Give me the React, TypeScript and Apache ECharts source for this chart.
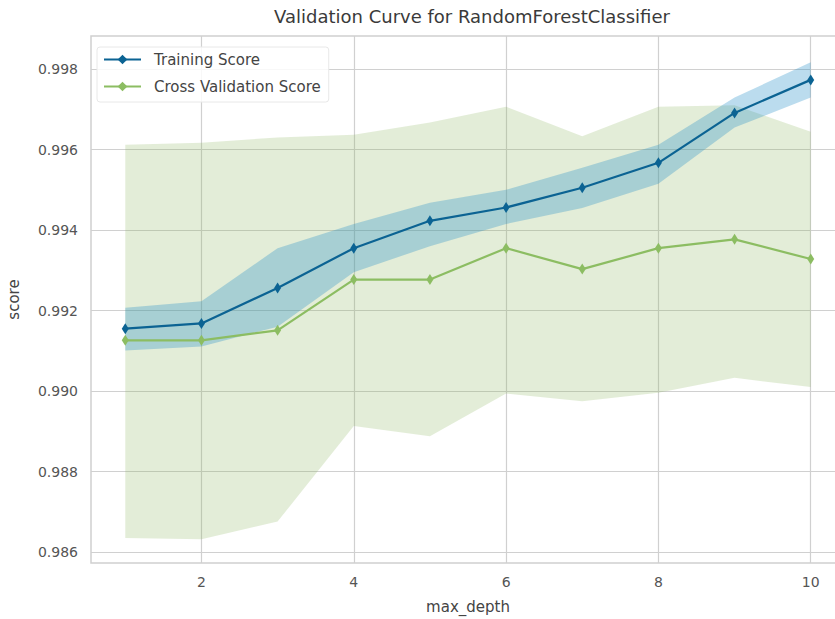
import React, { useEffect, useRef } from "react";
import * as echarts from "echarts";

const depths = [1, 2, 3, 4, 5, 6, 7, 8, 9, 10];

const trainMean = [0.99155, 0.99168, 0.99256, 0.99355, 0.99423, 0.99456, 0.99505, 0.99567, 0.99691, 0.99773];
const trainHigh = [0.99207, 0.99223, 0.99355, 0.99415, 0.99468, 0.995, 0.99555, 0.99612, 0.99729, 0.99817];
const trainLow = [0.99101, 0.99111, 0.9916, 0.99295, 0.9936, 0.99415, 0.99455, 0.99515, 0.99655, 0.99729];

const cvMean = [0.99126, 0.99126, 0.99151, 0.99277, 0.99277, 0.99355, 0.99303, 0.99355, 0.99377, 0.99328];
const cvHigh = [0.99612, 0.99617, 0.9963, 0.99637, 0.99667, 0.99706, 0.99633, 0.99706, 0.9971, 0.99644];
const cvLow = [0.98635, 0.98632, 0.98676, 0.98913, 0.98888, 0.98994, 0.98975, 0.98996, 0.99033, 0.9901];

const xTicks = [2, 4, 6, 8, 10];
const yTicks = [0.986, 0.988, 0.99, 0.992, 0.994, 0.996, 0.998];

const BLUE = "#0b6393";
const GREEN = "#8cbd62";
const FONT = "DejaVu Sans, Liberation Sans, sans-serif";

function band(lo: number[], hi: number[], fill: string, z: number) {
  return {
    type: "custom",
    silent: true,
    z,
    clip: true,
    data: [[5, 0.992]],
    renderItem: (_params: any, api: any) => {
      const pts: number[][] = [];
      depths.forEach((d, i) => pts.push(api.coord([d, hi[i]])));
      for (let i = depths.length - 1; i >= 0; i--) pts.push(api.coord([depths[i], lo[i]]));
      return { type: "polygon", shape: { points: pts }, style: { fill } };
    },
  };
}

export default function App() {
  const ref = useRef<HTMLDivElement>(null);
  useEffect(() => {
    if (!ref.current) return;
    const chart = echarts.init(ref.current, undefined, { renderer: "svg" });
    chart.setOption({
      animation: false,
      backgroundColor: "#ffffff",
      textStyle: { fontFamily: FONT },
      title: {
        text: "Validation Curve for RandomForestClassifier",
        left: 467,
        textAlign: "center",
        top: 2,
        textStyle: { fontFamily: FONT, fontSize: 18, fontWeight: "normal", color: "#3a3a3a" },
      },
      grid: {
        show: true,
        left: 91,
        top: 36,
        width: 754,
        height: 527,
        outerBoundsMode: "none",
        containLabel: false,
        borderColor: "#d0d0d0",
        borderWidth: 1.5,
        backgroundColor: "transparent",
      },
      legend: {
        left: 97,
        top: 47,
        orient: "vertical",
        itemWidth: 37,
        itemHeight: 12,
        itemGap: 12,
        padding: [5, 8, 8, 6],
        backgroundColor: "rgba(255,255,255,0.85)",
        borderColor: "#e8e8e8",
        borderWidth: 1,
        borderRadius: 3,
        data: ["Training Score", "Cross Validation Score"],
        textStyle: { fontFamily: FONT, fontSize: 15, color: "#444", padding: [0, 0, 0, 8] },
      },
      xAxis: {
        type: "value",
        min: 0.55,
        max: 10.45,
        name: "max_depth",
        nameLocation: "middle",
        nameGap: 36,
        nameTextStyle: { fontFamily: FONT, fontSize: 15, color: "#444" },
        axisLine: { show: false },
        axisTick: { show: false, customValues: xTicks },
        axisLabel: { customValues: xTicks, margin: 12, fontSize: 14, color: "#555", fontFamily: FONT },
        splitLine: { show: true, lineStyle: { color: "#d0d0d0", width: 1.2 } },
      },
      yAxis: {
        type: "value",
        min: 0.98573,
        max: 0.99882,
        name: "score",
        nameLocation: "middle",
        nameGap: 70,
        nameTextStyle: { fontFamily: FONT, fontSize: 15, color: "#444" },
        axisLine: { show: false },
        axisTick: { show: false, customValues: yTicks },
        axisLabel: {
          customValues: yTicks,
          margin: 13,
          fontSize: 14,
          color: "#555",
          fontFamily: FONT,
          formatter: (v: number) => v.toFixed(3),
        },
        splitLine: { show: true, lineStyle: { color: "#d0d0d0", width: 1.2 } },
      },
      series: [
        band(cvLow, cvHigh, "rgba(139,179,91,0.24)", 1),
        band(trainLow, trainHigh, "rgba(30,140,200,0.3)", 2),
        {
          name: "Cross Validation Score",
          type: "line",
          z: 3,
          data: depths.map((d, i) => [d, cvMean[i]]),
          lineStyle: { color: GREEN, width: 2.2 },
          itemStyle: { color: GREEN },
          symbol: "diamond",
          symbolSize: [7, 11],
        },
        {
          name: "Training Score",
          type: "line",
          z: 4,
          data: depths.map((d, i) => [d, trainMean[i]]),
          lineStyle: { color: BLUE, width: 2.2 },
          itemStyle: { color: BLUE },
          symbol: "diamond",
          symbolSize: [7, 11],
        },
      ],
    });
    return () => chart.dispose();
  }, []);
  return <div ref={ref} style={{ width: 835, height: 619, position: "absolute", left: 0, top: 0 }} />;
}
